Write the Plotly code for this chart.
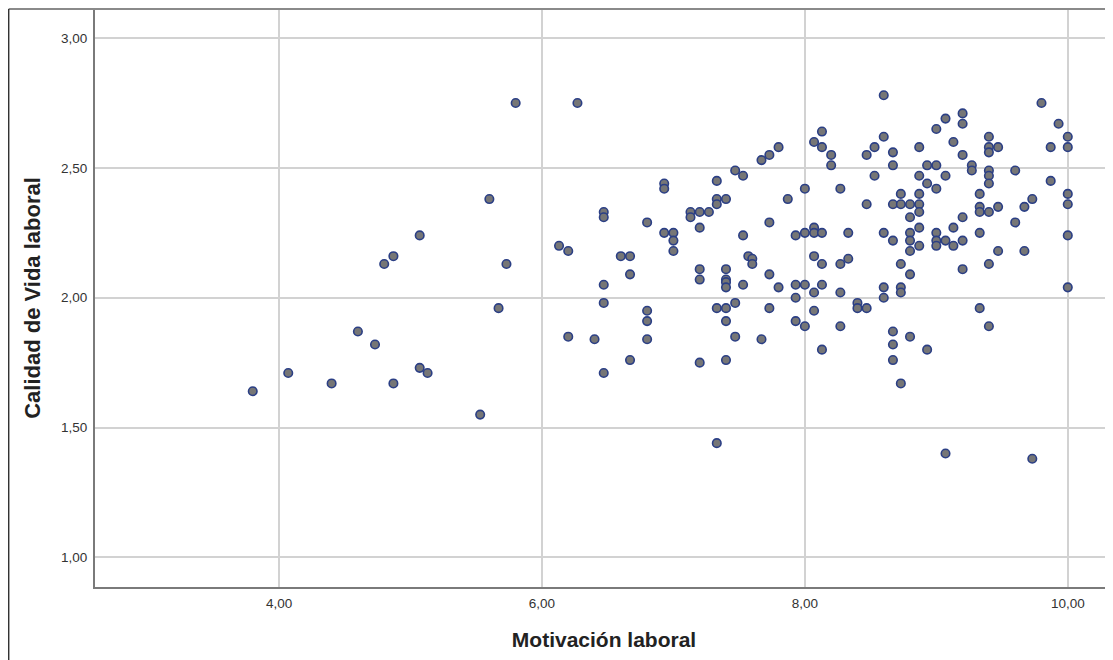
import plotly.graph_objects as go

# Motivación laboral (x) and Calidad de Vida laboral (y)
motivacion = [
    # left group
    3.80, 4.07, 4.40, 4.60, 4.73, 4.80, 4.87, 4.87, 5.07, 5.07, 5.13, 5.53, 5.60, 5.67, 5.73, 5.80,
    # 6-8 upper
    6.27, 7.80, 7.73, 7.67, 7.47, 7.53, 7.33, 6.93, 6.93, 8.00, 7.87, 7.33, 7.40, 7.33, 6.47, 6.47,
    7.13, 7.13, 7.20, 7.27, 6.80, 7.73, 7.20, 6.93, 7.00, 7.00, 7.00, 7.53, 7.93, 8.00, 6.13, 6.20,
    6.60, 6.67, 7.57, 7.60, 7.60, 6.67, 7.20, 7.40, 7.73,
    # 6-8 lower
    7.20, 7.40, 7.40, 7.40, 6.47, 7.53, 7.80, 7.93, 8.00, 7.93, 6.47, 6.80, 6.80, 6.80, 7.33, 7.40,
    7.47, 7.73, 7.40, 7.93, 8.00, 6.20, 6.40, 7.47, 7.67, 6.67, 7.20, 7.40, 6.47, 7.33,
    # 8-10 upper
    8.60, 9.80, 9.20, 9.20, 9.07, 9.93, 9.00, 8.13, 8.60, 9.40, 10.00, 8.07, 8.13, 8.53, 8.87, 9.40,
    9.47, 9.87, 10.00, 9.13, 9.40, 8.20, 8.47, 8.67, 9.20, 8.20, 8.67, 8.93, 9.00, 9.27, 9.27, 9.40,
    9.60, 9.40, 9.40, 8.53, 8.87, 9.07, 8.93, 9.00, 9.87, 8.27, 8.73, 8.87, 9.33, 10.00, 9.73, 8.47,
    8.67, 8.73, 8.80, 8.87, 9.33, 9.47, 9.67, 10.00, 8.87, 8.80, 9.33, 9.40, 9.20, 9.60, 8.87, 9.13,
    8.07, 8.07, 8.13, 8.33, 8.60, 8.80, 9.00, 9.33, 10.00, 8.67, 8.80, 9.00, 9.00, 9.07, 9.13, 9.20,
    8.80, 8.87, 9.47, 9.67, 8.07, 8.13, 8.27, 8.33, 8.73, 9.40, 9.20, 8.80,
    # 8-10 lower
    8.13, 8.07, 8.27, 8.60, 8.73, 8.73, 8.60, 8.40, 8.40, 8.47, 10.00, 9.33, 8.07, 8.27, 9.40, 8.67,
    8.80, 8.67, 8.93, 8.13, 8.67, 8.73, 9.07, 9.73,
]

calidad = [
    # left group
    1.64, 1.71, 1.67, 1.87, 1.82, 2.13, 2.16, 1.67, 2.24, 1.73, 1.71, 1.55, 2.38, 1.96, 2.13, 2.75,
    # 6-8 upper
    2.75, 2.58, 2.55, 2.53, 2.49, 2.47, 2.45, 2.44, 2.42, 2.42, 2.38, 2.38, 2.38, 2.36, 2.33, 2.31,
    2.33, 2.31, 2.33, 2.33, 2.29, 2.29, 2.27, 2.25, 2.25, 2.22, 2.18, 2.24, 2.24, 2.25, 2.20, 2.18,
    2.16, 2.16, 2.16, 2.15, 2.13, 2.09, 2.11, 2.11, 2.09,
    # 6-8 lower
    2.07, 2.07, 2.06, 2.04, 2.05, 2.05, 2.04, 2.05, 2.05, 2.00, 1.98, 1.95, 1.91, 1.84, 1.96, 1.96,
    1.98, 1.96, 1.91, 1.91, 1.89, 1.85, 1.84, 1.85, 1.84, 1.76, 1.75, 1.76, 1.71, 1.44,
    # 8-10 upper
    2.78, 2.75, 2.71, 2.67, 2.69, 2.67, 2.65, 2.64, 2.62, 2.62, 2.62, 2.60, 2.58, 2.58, 2.58, 2.58,
    2.58, 2.58, 2.58, 2.60, 2.56, 2.55, 2.55, 2.56, 2.55, 2.51, 2.51, 2.51, 2.51, 2.51, 2.49, 2.49,
    2.49, 2.47, 2.44, 2.47, 2.47, 2.47, 2.44, 2.42, 2.45, 2.42, 2.40, 2.40, 2.40, 2.40, 2.38, 2.36,
    2.36, 2.36, 2.36, 2.36, 2.35, 2.35, 2.35, 2.36, 2.33, 2.31, 2.33, 2.33, 2.31, 2.29, 2.27, 2.27,
    2.27, 2.25, 2.25, 2.25, 2.25, 2.25, 2.25, 2.25, 2.24, 2.22, 2.22, 2.22, 2.20, 2.22, 2.20, 2.22,
    2.18, 2.20, 2.18, 2.18, 2.16, 2.13, 2.13, 2.15, 2.13, 2.13, 2.11, 2.09,
    # 8-10 lower
    2.05, 2.02, 2.02, 2.04, 2.04, 2.02, 2.00, 1.98, 1.96, 1.96, 2.04, 1.96, 1.95, 1.89, 1.89, 1.87,
    1.85, 1.82, 1.80, 1.80, 1.76, 1.67, 1.40, 1.38,
]

x_ticks = [4, 6, 8, 10]
x_tick_labels = ["4,00", "6,00", "8,00", "10,00"]
y_ticks = [1.0, 1.5, 2.0, 2.5, 3.0]
y_tick_labels = ["1,00", "1,50", "2,00", "2,50", "3,00"]

FONT = "Liberation Sans, Arial, sans-serif"

fig = go.Figure(
    go.Scatter(
        x=motivacion,
        y=calidad,
        mode="markers",
        marker=dict(size=8.5, color="#767676", line=dict(color="#2b3f85", width=1.6)),
        showlegend=False,
        hoverinfo="x+y",
    )
)

axis_common = dict(
    showgrid=True,
    gridcolor="#d2d2d2",
    gridwidth=1.5,
    zeroline=False,
    showline=True,
    linecolor="#7a7a7a",
    linewidth=2,
    ticks="outside",
    ticklen=3,
    tickcolor="rgba(0,0,0,0)",
    tickfont=dict(family=FONT, size=13.5, color="#333333"),
)

# The page body adds an 8px offset, so the figure is sized to end at the window edge.
fig.update_layout(
    width=1105,
    height=652,
    margin=dict(l=87, r=0, t=1, b=73),
    paper_bgcolor="white",
    plot_bgcolor="white",
    xaxis=dict(
        range=[2.60, 10.344],
        tickvals=x_ticks,
        ticktext=x_tick_labels,
        title=dict(
            text="Motivación laboral",
            font=dict(family=FONT, size=21, color="#222222", weight="bold"),
            standoff=22,
        ),
        **axis_common,
    ),
    yaxis=dict(
        range=[0.886, 3.112],
        tickvals=y_ticks,
        ticktext=y_tick_labels,
        title=dict(
            text="Calidad de Vida laboral",
            font=dict(family=FONT, size=22, color="#222222", weight="bold"),
            standoff=14,
        ),
        **axis_common,
    ),
    shapes=[
        # top frame line
        dict(type="line", xref="paper", yref="paper", x0=-0.0848, x1=1, y0=1, y1=1,
             line=dict(color="#8a8a8a", width=2)),
        # outer left frame line
        dict(type="line", xref="paper", yref="paper", x0=-0.0848, x1=-0.0848, y0=1, y1=-0.13,
             line=dict(color="#333333", width=1.5)),
    ],
)

fig.write_html("out.html")
